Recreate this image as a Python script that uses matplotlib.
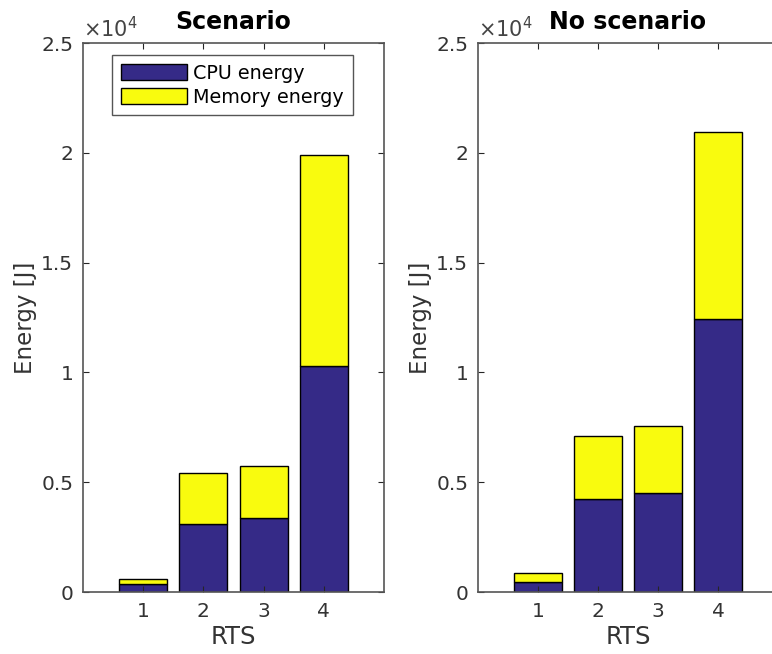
import matplotlib
matplotlib.use('Agg')
import matplotlib.pyplot as plt
from matplotlib.ticker import FuncFormatter
import numpy as np

rts = [1, 2, 3, 4]

# Scenario
cpu_scen = [350, 3100, 3350, 10300]
mem_scen = [250, 2300, 2400, 9600]

# No scenario
cpu_noscen = [470, 4250, 4520, 12450]
mem_noscen = [380, 2850, 3030, 8500]

titles = ['Scenario', 'No scenario']
cpu_color = '#352a87'
mem_color = '#f9fb0e'
axcol = '#262626'

plt.rcParams['font.family'] = 'DejaVu Sans'
plt.rcParams['mathtext.default'] = 'regular'

fig = plt.figure(figsize=(7.72, 6.54), dpi=100)
ax1 = fig.add_axes([0.1075, 0.0948, 0.3899, 0.8394])
ax2 = fig.add_axes([0.6192, 0.0948, 0.3886, 0.8394])

for ax, cpu, mem, title in [(ax1, cpu_scen, mem_scen, titles[0]),
                            (ax2, cpu_noscen, mem_noscen, titles[1])]:
    ax.bar(rts, cpu, width=0.8, color=cpu_color, edgecolor='black', linewidth=1, label='CPU energy')
    ax.bar(rts, mem, width=0.8, bottom=cpu, color=mem_color, edgecolor='black', linewidth=1, label='Memory energy')
    ax.set_xlim(0, 5)
    ax.set_ylim(0, 25000)
    ax.set_xticks(rts)
    ax.set_yticks(np.arange(0, 25001, 5000))
    ax.yaxis.set_major_formatter(FuncFormatter(lambda v, p: '%g' % (v / 1e4)))
    ax.tick_params(direction='in', top=True, right=True, length=4, width=0.8,
                   colors=axcol, labelsize=14.5, labelcolor='#333333', pad=7)
    for s in ax.spines.values():
        s.set_color('#555555')
        s.set_linewidth(1.2)
    ax.set_title(title, fontsize=17, fontweight='bold', pad=10)
    ax.set_xlabel('RTS', fontsize=17.5, color='#333333', labelpad=3)
    ax.set_ylabel('Energy [J]', fontsize=16.5, color='#333333', labelpad=3)
    ax.text(0.0, 1.003, r'$\times10^4$', transform=ax.transAxes, ha='left', va='bottom',
            fontsize=15, color='#444444')

leg = ax1.legend(loc='upper left', bbox_to_anchor=(0.096, 0.978), fontsize=13.8,
                 handlelength=3.45, handleheight=0.9, fancybox=False, framealpha=1,
                 borderpad=0.45, labelspacing=0.25, handletextpad=0.35, borderaxespad=0)
leg.get_frame().set_edgecolor('#555555')
leg.get_frame().set_linewidth(1.0)

fig.savefig('out.png', dpi=100)
